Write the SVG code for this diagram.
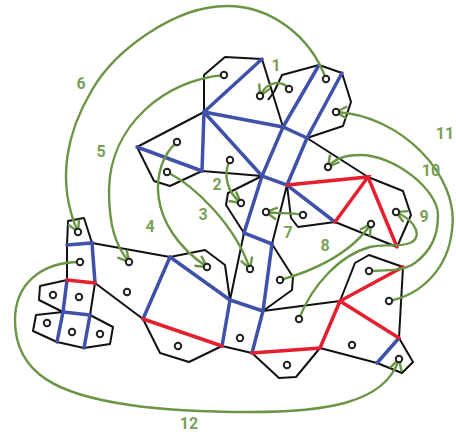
<svg xmlns="http://www.w3.org/2000/svg" width="456" height="434" viewBox="0 0 456 434">
<style>
.b{fill:none;stroke:#111;stroke-width:2;stroke-linejoin:round}
.u{fill:none;stroke:#3f51a8;stroke-width:3.5;stroke-linecap:round}
.r{fill:none;stroke:#e61f2e;stroke-width:3.5;stroke-linecap:round}
.e{fill:none;stroke:#6b9445;stroke-width:2.4;marker-end:url(#v)}
.n{fill:#fff;stroke:#222;stroke-width:2}
.t{font:700 16px Roboto,"Liberation Sans",sans-serif;fill:#7a9f58;text-anchor:middle}
</style>
<defs><marker id="v" markerUnits="userSpaceOnUse" markerWidth="16" markerHeight="16" refX="12" refY="8" orient="auto" viewBox="0 0 16 16"><path d="M1,2 L12,8 L1,14" fill="none" stroke="#6b9445" stroke-width="2.4"/></marker></defs>
<g id="mesh">
<path class="b" d="M204,112 L204,75 L225,57 L262,59 L283,127"/>
<path class="b" d="M204,112 L137,147 L154,181 L170,186 L202,171 L262,176 L228,193 L226,205 L244,233 L230,300"/>
<path class="b" d="M274,92 L282,75 L319,65 L342,73 L351,102 L343,126 L307,138 L368,177 L403,191 L411,215 L397,247 L335,222 L298,227 L291,218 L287,185 L272,244 L293,277 L292,290 L263,311 L340,301 L355,263 L369,255 L403,267 L399,338 L413,362 L402,373 L377,363 L320,348 L296,377 L279,378 L252,353 L222,346 L189,362 L160,353 L143,319 L95,283 L90,315 L113,327 L110,344 L84,348 L57,342 L33,331 L36,315 L63,312 L39,300 L40,286 L67,280 L67,245 L68,221 L84,218 L92,243 L170,257 L205,250 L225,265 L230,300"/>
<path class="b" d="M274,92 L268,100"/>
<g class="u"><path d="M204,112 L262,59"/><path d="M204,112 L202,171"/><path d="M137,147 L202,171"/><path d="M204,112 L262,176 L287,185 L335,222"/><path d="M204,112 L283,127 L307,138"/><path d="M319,65 L283,127 L262,176 L244,233 L272,244 L263,311 L252,353"/><path d="M342,73 L307,138 L287,185"/><path d="M230,300 L263,311"/><path d="M230,300 L222,346"/><path d="M170,257 L230,300"/><path d="M170,257 L143,319"/><path d="M67,245 L92,243 L95,283"/><path d="M67,280 L63,312 L90,315 L84,348"/><path d="M63,312 L57,342"/><path d="M399,338 L377,363"/></g>
<g class="r"><path d="M287,185 L368,177 L335,222"/><path d="M368,177 L397,247"/><path d="M403,267 L340,301 L399,338"/><path d="M340,301 L320,348 L252,353"/><path d="M143,319 L222,346"/><path d="M67,280 L95,283"/></g>
</g>
<g id="connectors">
<path class="e" d="M289,89 C283,81 268,79 260,96"/>
<path class="e" d="M230,160 C222,175 228,193 241,203"/>
<path class="e" d="M167,172 C195,186 235,225 250,269"/>
<path class="e" d="M177,142 C150,165 145,225 207,267"/>
<path class="e" d="M224,75 C165,80 110,125 109,190 C109,225 115,245 129,262"/>
<path class="e" d="M326,79 C310,35 270,6 227,6 C175,6 115,50 92,90 C68,130 55,180 78,232"/>
<path class="e" d="M303,215 C290,212 280,214 266,212"/>
<path class="e" d="M280,280 C310,272 350,255 371,224"/>
<path class="e" d="M299,319 C312,285 340,255 370,247 C385,243 397,248 410,243 C422,238 418,222 396,212"/>
<path class="e" d="M369,271 C385,270 402,272 415,263 C432,250 438,235 438,215 C438,190 395,155 360,155 C345,155 335,158 328,167"/>
<path class="e" d="M389,301 C420,295 448,270 452,230 C460,175 400,115 336,112"/>
<path class="e" d="M80,262 C40,262 15,285 15,320 C15,375 60,395 130,405 C170,411 210,412 250,412 C320,412 385,405 399,359"/>
</g>
<g id="n1"><circle class="n" cx="224" cy="75" r="3.2"/></g>
<g id="n2"><circle class="n" cx="289" cy="89" r="3.2"/></g>
<g id="n3"><circle class="n" cx="260" cy="96" r="3.2"/></g>
<g id="n4"><circle class="n" cx="326" cy="79" r="3.2"/></g>
<g id="n5"><circle class="n" cx="336" cy="112" r="3.2"/></g>
<g id="n6"><circle class="n" cx="177" cy="142" r="3.2"/></g>
<g id="n7"><circle class="n" cx="167" cy="172" r="3.2"/></g>
<g id="n8"><circle class="n" cx="230" cy="160" r="3.2"/></g>
<g id="n9"><circle class="n" cx="241" cy="203" r="3.2"/></g>
<g id="n10"><circle class="n" cx="328" cy="167" r="3.2"/></g>
<g id="n11"><circle class="n" cx="266" cy="212" r="3.2"/></g>
<g id="n12"><circle class="n" cx="303" cy="215" r="3.2"/></g>
<g id="n13"><circle class="n" cx="371" cy="224" r="3.2"/></g>
<g id="n14"><circle class="n" cx="396" cy="212" r="3.2"/></g>
<g id="n15"><circle class="n" cx="78" cy="232" r="3.2"/></g>
<g id="n16"><circle class="n" cx="80" cy="262" r="3.2"/></g>
<g id="n17"><circle class="n" cx="129" cy="262" r="3.2"/></g>
<g id="n18"><circle class="n" cx="207" cy="267" r="3.2"/></g>
<g id="n19"><circle class="n" cx="53" cy="295" r="3.2"/></g>
<g id="n20"><circle class="n" cx="79" cy="297" r="3.2"/></g>
<g id="n21"><circle class="n" cx="127" cy="292" r="3.2"/></g>
<g id="n22"><circle class="n" cx="47" cy="323" r="3.2"/></g>
<g id="n23"><circle class="n" cx="72" cy="332" r="3.2"/></g>
<g id="n24"><circle class="n" cx="100" cy="334" r="3.2"/></g>
<g id="n25"><circle class="n" cx="178" cy="346" r="3.2"/></g>
<g id="n26"><circle class="n" cx="250" cy="269" r="3.2"/></g>
<g id="n27"><circle class="n" cx="280" cy="280" r="3.2"/></g>
<g id="n28"><circle class="n" cx="299" cy="319" r="3.2"/></g>
<g id="n29"><circle class="n" cx="240" cy="338" r="3.2"/></g>
<g id="n30"><circle class="n" cx="287" cy="365" r="3.2"/></g>
<g id="n31"><circle class="n" cx="352" cy="345" r="3.2"/></g>
<g id="n32"><circle class="n" cx="399" cy="359" r="3.2"/></g>
<g id="n33"><circle class="n" cx="389" cy="301" r="3.2"/></g>
<g id="n34"><circle class="n" cx="369" cy="271" r="3.2"/></g>
<g id="labels">
<text class="t" x="276" y="71">1</text><text class="t" x="217" y="190">2</text><text class="t" x="203" y="220">3</text><text class="t" x="150" y="232">4</text><text class="t" x="101" y="157">5</text><text class="t" x="81" y="89">6</text><text class="t" x="288" y="238">7</text><text class="t" x="325" y="251">8</text><text class="t" x="424" y="222">9</text><text class="t" x="431" y="176">10</text><text class="t" x="445" y="139">11</text><text class="t" x="189" y="429">12</text>
</g>
</svg>
